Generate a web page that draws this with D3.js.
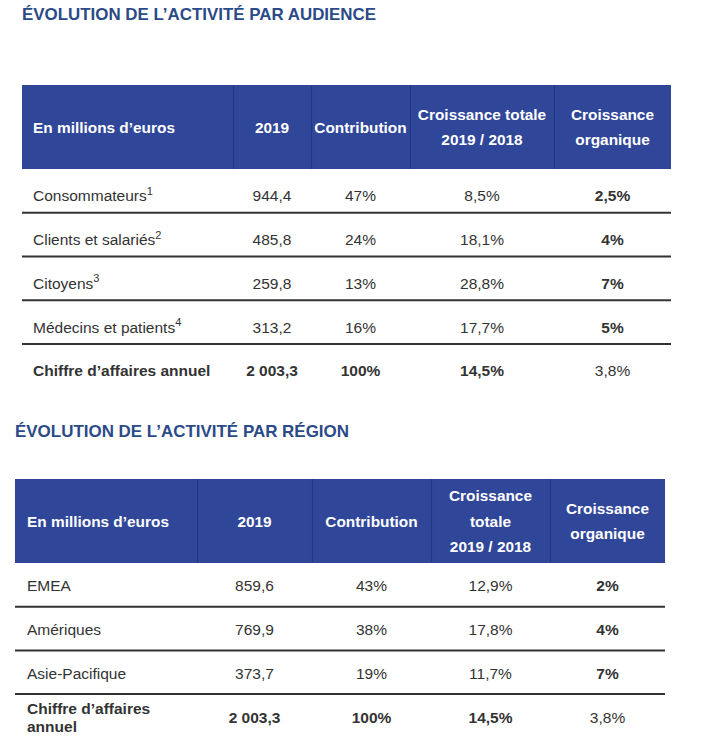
<!DOCTYPE html>
<html>
<head>
<meta charset="utf-8">
<script src="https://cdn.jsdelivr.net/npm/d3@7"></script>
<style>
  html, body { margin: 0; padding: 0; background: #fff; }
  svg { display: block; font-family: "Liberation Sans", Arial, sans-serif; }
</style>
</head>
<body>
<svg id="chart" width="721" height="750"></svg>
<script>
// ---------- DATA ----------
const audienceTitle = "ÉVOLUTION DE L’ACTIVITÉ PAR AUDIENCE";
const audienceHeaders = [["En millions d’euros"], ["2019"], ["Contribution"], ["Croissance totale", "2019 / 2018"], ["Croissance", "organique"]];
const audienceLabels = ["Consommateurs", "Clients et salariés", "Citoyens", "Médecins et patients"];
const audienceNotes = ["1", "2", "3", "4"];
const audience2019 = ["944,4", "485,8", "259,8", "313,2"];
const audienceContribution = ["47%", "24%", "13%", "16%"];
const audienceGrowth = ["8,5%", "18,1%", "28,8%", "17,7%"];
const audienceOrganic = ["2,5%", "4%", "7%", "5%"];
const audienceTotal = [["Chiffre d’affaires annuel"], ["2 003,3"], ["100%"], ["14,5%"], ["3,8%"]];

const regionTitle = "ÉVOLUTION DE L’ACTIVITÉ PAR RÉGION";
const regionHeaders = [["En millions d’euros"], ["2019"], ["Contribution"], ["Croissance", "totale", "2019 / 2018"], ["Croissance", "organique"]];
const regionLabels = ["EMEA", "Amériques", "Asie-Pacifique"];
const regionNotes = ["", "", ""];
const region2019 = ["859,6", "769,9", "373,7"];
const regionContribution = ["43%", "38%", "19%"];
const regionGrowth = ["12,9%", "17,8%", "11,7%"];
const regionOrganic = ["2%", "4%", "7%"];
const regionTotal = [["Chiffre d’affaires", "annuel"], ["2 003,3"], ["100%"], ["14,5%"], ["3,8%"]];

// ---------- DRAW ----------
const svg = d3.select("#chart");
const HEADER_BG = "#2f4699";
const HEADER_SEP = "#203a80";
const TITLE_COL = "#2a4a88";
const TEXT_COL = "#333333";

function drawTable(cfg) {
  const g = svg.append("g");
  // title
  g.append("text")
    .attr("x", cfg.titleX).attr("y", cfg.titleY)
    .attr("font-size", 17).attr("font-weight", "bold")
    .attr("fill", TITLE_COL)
    .attr("textLength", cfg.titleW).attr("lengthAdjust", "spacingAndGlyphs")
    .text(cfg.title);

  const cols = cfg.cols; // boundaries
  const left = cols[0], right = cols[cols.length - 1];
  // header
  g.append("rect").attr("x", left).attr("y", cfg.headTop)
    .attr("width", right - left).attr("height", cfg.headBottom - cfg.headTop)
    .attr("fill", HEADER_BG);
  g.selectAll(".hsep").data(cols.slice(1, -1)).enter().append("line")
    .attr("x1", d => d + 0.5).attr("x2", d => d + 0.5)
    .attr("y1", cfg.headTop).attr("y2", cfg.headBottom)
    .attr("stroke", HEADER_SEP).attr("stroke-width", 1.2);

  const headMid = (cfg.headTop + cfg.headBottom) / 2;
  cfg.headers.forEach((lines, i) => {
    const cx = i === 0 ? left + cfg.labelPad : (cols[i] + cols[i + 1]) / 2;
    const n = lines.length;
    lines.forEach((ln, j) => {
      g.append("text")
        .attr("x", cx)
        .attr("y", headMid + (j - (n - 1) / 2) * cfg.headLine)
        .attr("dy", "0.36em")
        .attr("text-anchor", i === 0 ? "start" : "middle")
        .attr("font-size", 15.4).attr("font-weight", "bold")
        .attr("fill", "#ffffff")
        .text(ln);
    });
  });

  // body rows
  const nRows = cfg.labels.length + 1;
  const y = d3.scaleBand().domain(d3.range(nRows))
    .range([cfg.headBottom, cfg.headBottom + nRows * cfg.rowH]).padding(0);

  const rows = cfg.labels.map((lab, i) => ({
    cells: [[lab], [cfg.v2019[i]], [cfg.contrib[i]], [cfg.growth[i]], [cfg.organic[i]]],
    note: cfg.notes[i],
    bold: [false, false, false, false, true]
  }));
  rows.push({ cells: cfg.total, note: "", bold: [true, true, true, true, false] });

  rows.forEach((row, r) => {
    const mid = y(r) + y.bandwidth() / 2 + cfg.textShift;
    row.cells.forEach((lines, c) => {
      const cx = c === 0 ? left + cfg.labelPad : (cols[c] + cols[c + 1]) / 2;
      const n = lines.length;
      lines.forEach((ln, j) => {
        const t = g.append("text")
          .attr("x", cx)
          .attr("y", mid + (j - (n - 1) / 2) * 18)
          .attr("dy", "0.36em")
          .attr("text-anchor", c === 0 ? "start" : "middle")
          .attr("font-size", 15.5)
          .attr("font-weight", row.bold[c] ? "bold" : "normal")
          .attr("fill", TEXT_COL);
        t.append("tspan").text(ln);
        if (c === 0 && row.note) {
          t.append("tspan").attr("font-size", 11).attr("dy", "-0.6em").text(row.note);
        }
      });
    });
    if (r < nRows - 1) {
      g.append("line")
        .attr("x1", left).attr("x2", right)
        .attr("y1", y(r + 1)).attr("y2", y(r + 1))
        .attr("stroke", "#333333").attr("stroke-width", 2);
    }
  });
}

drawTable({
  title: audienceTitle, titleX: 22, titleY: 20, titleW: 354,
  cols: [22, 233, 311, 410, 554, 671],
  headTop: 85, headBottom: 169, headLine: 25,
  headers: audienceHeaders,
  labels: audienceLabels, notes: audienceNotes,
  v2019: audience2019, contrib: audienceContribution, growth: audienceGrowth, organic: audienceOrganic,
  total: audienceTotal,
  rowH: 43.75, labelPad: 11, textShift: 5
});

drawTable({
  title: regionTitle, titleX: 15, titleY: 437, titleW: 334,
  cols: [15, 197, 312, 431, 550, 665],
  headTop: 479, headBottom: 563, headLine: 25.5,
  headers: regionHeaders,
  labels: regionLabels, notes: regionNotes,
  v2019: region2019, contrib: regionContribution, growth: regionGrowth, organic: regionOrganic,
  total: regionTotal,
  rowH: 43.7, labelPad: 12, textShift: 1
});
</script>
</body>
</html>
